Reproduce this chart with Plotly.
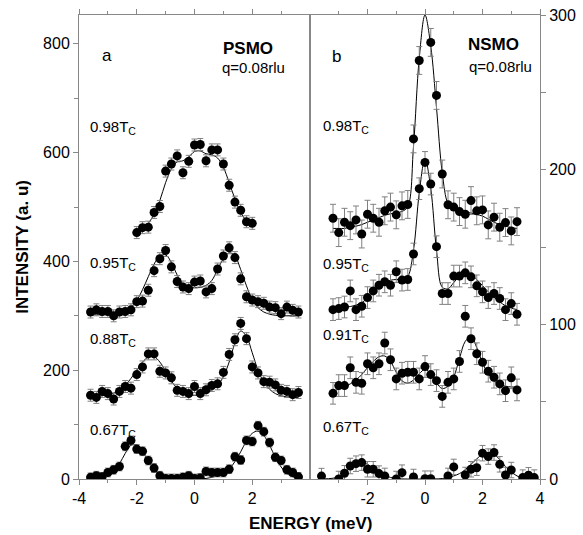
import plotly.graph_objects as go

# ---------------- data: panel a (PSMO) ----------------
E_A98 = [-2.0, -1.8, -1.6, -1.4, -1.2, -1.0, -0.8, -0.6, -0.4, -0.2, 0.0,
         0.2, 0.4, 0.6, 0.8, 1.0, 1.2, 1.4, 1.6, 1.8, 2.0]
E_AFULL = [-3.6, -3.4, -3.2, -3.0, -2.8, -2.6, -2.4, -2.2, -2.0, -1.8, -1.6,
           -1.4, -1.2, -1.0, -0.8, -0.6, -0.4, -0.2, 0.0, 0.2, 0.4, 0.6, 0.8,
           1.0, 1.2, 1.4, 1.6, 1.8, 2.0, 2.2, 2.4, 2.6, 2.8, 3.0, 3.2, 3.4, 3.6]

a98 = [453, 462, 463, 490, 501, 566, 579, 594, 563, 584, 614, 615, 585, 605,
       605, 579, 540, 509, 494, 473, 470]
a98_fit = [455, 460, 470, 487, 512, 545, 570, 583, 585, 592, 602, 603, 598,
           596, 590, 573, 545, 515, 490, 475, 468]

a95 = [307, 311, 308, 308, 300, 307, 308, 311, 326, 327, 347, 383, 405, 420,
       390, 363, 353, 350, 362, 364, 344, 350, 386, 410, 425, 407, 368, 335,
       329, 326, 323, 316, 315, 304, 316, 310, 307]
a95_fit = [302, 302, 302, 302, 303, 305, 308, 315, 328, 348, 372, 395, 410,
           412, 398, 375, 358, 352, 352, 352, 356, 365, 385, 405, 416, 410,
           385, 355, 330, 315, 307, 303, 301, 300, 300, 300, 300]

a88 = [154, 150, 161, 157, 147, 161, 170, 167, 192, 206, 230, 230, 198, 195,
       186, 163, 161, 157, 170, 157, 164, 172, 175, 196, 229, 256, 286, 258,
       206, 195, 179, 178, 173, 163, 161, 155, 159]
a88_fit = [152, 152, 153, 155, 158, 163, 172, 185, 200, 215, 224, 225, 215,
           198, 180, 167, 159, 155, 154, 155, 158, 163, 172, 188, 215, 250,
           272, 262, 232, 200, 178, 165, 157, 153, 151, 150, 150]

a67 = [3, 6, 4, 12, 17, 23, 60, 71, 55, 51, 34, 20, 6, 1, 1, 1, 3, 6, 1, 2,
       14, 12, 12, 12, 18, 41, 35, 71, 69, 98, 87, 67, 40, 34, 17, 12, 4]
a67_fit = [0, 1, 3, 7, 14, 28, 47, 62, 62, 50, 33, 18, 8, 3, 1, 0, 0, 0, 0,
           0, 1, 3, 6, 10, 18, 32, 50, 70, 84, 88, 80, 62, 40, 22, 10, 4, 1]

# ---------------- data: panel b (NSMO) ----------------
E_BFULL = [-3.2, -3.0, -2.8, -2.6, -2.4, -2.2, -2.0, -1.8, -1.6, -1.4, -1.2,
           -1.0, -0.8, -0.6, -0.4, -0.2, 0.0, 0.2, 0.4, 0.6, 0.8, 1.0, 1.2,
           1.4, 1.6, 1.8, 2.0, 2.2, 2.4, 2.6, 2.8, 3.0, 3.2]
E_B98 = [-3.2, -3.0, -2.8, -2.6, -2.4, -2.2, -2.0, -1.8, -1.6, -1.4, -1.2,
         -1.0, -0.8, -0.6, -0.4, -0.2, 0.2, 0.4, 0.6, 0.8, 1.0, 1.2,
         1.4, 1.6, 1.8, 2.0, 2.2, 2.4, 2.6, 2.8, 3.0, 3.2]
b98 = [168.6, 159.3, 166, 163.8, 167.5, 158.4, 171.2, 168.6, 166, 173.4,
       175.8, 170.8, 176.6, 177.5, 219.9, 270.6, 282.3, 248, 197.2,
       177.3, 175.8, 172.9, 171.2, 180, 173.4, 174, 164.3, 169.3, 162.8,
       165.8, 160.4, 166.4]
b98_fit = [162, 162, 162, 163, 163.5, 164.5, 166, 167.5, 169, 170.5, 171.5,
           172, 173, 176, 215, 272, 300, 280, 240, 198, 178, 174, 173, 172.5,
           172, 171, 170, 168, 166, 164.5, 163.5, 162.5, 162]

b95 = [109.5, 110.2, 111.2, 121.6, 109.5, 111.7, 117.3, 121.6, 125.3, 127.5,
       125.3, 134, 128.6, 129, 145.5, 187.7, 204.7, 190.7, 150.2, 119.9,
       119.9, 131.2, 131.2, 133.3, 130.7, 124.9, 121, 117.3, 119.9, 116.7,
       109.5, 113.4, 106.5]
b95_fit = [110, 110.5, 111, 111.5, 112.5, 114, 117, 120.5, 124, 127, 128.5,
           129, 129, 131, 148, 185, 207, 188, 148, 124, 123, 127, 131, 132.5,
           132, 129, 125, 121, 117.5, 114.5, 112, 110.5, 109.5]

b91 = [55.4, 60.4, 60.4, 71.9, 62.5, 61.9, 74.5, 71.9, 74.5, 87.9, 77.1, 64.7,
       68.4, 69, 69, 64.7, 72.7, 67.5, 63.6, 53.4, 62.5, 64.7, 76, 105.2,
       90.7, 81, 75.5, 69.7, 65.8, 61.5, 57.1, 65.4, 57.6]
b91_fit = [57, 58, 59.5, 61.5, 64, 67.5, 72, 76, 79, 79.5, 76, 69, 63.5, 62,
           64, 68, 71, 68, 62, 58.5, 60, 66, 78, 89, 92, 85, 75, 68, 63.5,
           61, 60, 59.5, 59.5]

E_B67 = [-3.6, -3.0, -2.8, -2.6, -2.4, -2.2, -2.0, -1.8, -1.6, -1.4, -1.0,
         -0.8, -0.4, 0.0, 0.2, 0.8, 1.0, 1.4, 1.6, 1.8, 2.0, 2.2, 2.4, 2.6,
         2.8, 3.0, 3.4, 3.6, 3.8]
b67 = [1.9, 0, 3.7, 8.4, 9.9, 10.6, 6.3, 6.3, 3.5, 2, 0, 4.1, 1.3, 0.2, 0.2,
       2, 7.8, 2.6, 6.3, 7.3, 16.7, 14.5, 17.1, 9.5, 2.6, 5.8, 0.9, 2.4, 0.9]
E_B67FIT = [-3.6, -3.2, -3.0, -2.8, -2.6, -2.4, -2.2, -2.0, -1.8, -1.6, -1.4,
            -1.2, -1.0, -0.6, 0.0, 0.6, 1.0, 1.2, 1.4, 1.6, 1.8, 2.0, 2.2,
            2.4, 2.6, 2.8, 3.0, 3.2, 3.4, 3.8]
b67_fit = [0, 0.5, 1.5, 4, 7, 9.5, 10.5, 9.5, 7, 4.5, 2.5, 1, 0.3, 0, 0, 0.3,
           2, 3.5, 6, 9.5, 13, 16, 17, 16, 12.5, 8, 4.5, 2, 0.5, 0]

# error bar half-widths (a.u.)
ERR_A = 11
ERR_B = 7

# tick values and labels
A_XTICKS = [-4, -2, 0, 2]
A_XLABELS = ["-4", "-2", "0", "2"]
B_XTICKS = [-2, 0, 2, 4]
B_XLABELS = ["-2", "0", "2", "4"]
A_YTICKS = [0, 200, 400, 600, 800]
B_YTICKS = [0, 100, 200, 300]

# ---------------- figure ----------------
fig = go.Figure()

def add_series(x, y, err, xfit, yfit, xa, ya):
    fig.add_trace(go.Scatter(x=xfit, y=yfit, mode="lines", line_shape="spline",
                             line=dict(color="black", width=1),
                             xaxis=xa, yaxis=ya, hoverinfo="skip"))
    fig.add_trace(go.Scatter(x=x, y=y, mode="markers",
                             marker=dict(color="black", size=9),
                             error_y=dict(type="constant", value=err,
                                          color="#808080", thickness=1, width=3),
                             xaxis=xa, yaxis=ya))

add_series(E_A98, a98, ERR_A, E_A98, a98_fit, "x", "y")
add_series(E_AFULL, a95, ERR_A, E_AFULL, a95_fit, "x", "y")
add_series(E_AFULL, a88, ERR_A, E_AFULL, a88_fit, "x", "y")
add_series(E_AFULL, a67, ERR_A - 3, E_AFULL, a67_fit, "x", "y")

add_series(E_B98, b98, ERR_B + 2, E_BFULL, b98_fit, "x2", "y2")
add_series(E_BFULL, b95, ERR_B, E_BFULL, b95_fit, "x2", "y2")
add_series(E_BFULL, b91, ERR_B, E_BFULL, b91_fit, "x2", "y2")
add_series(E_B67, b67, ERR_B - 2, E_B67FIT, b67_fit, "x2", "y2")

axcol = "#888888"
F = "Liberation Sans, Arial, sans-serif"
tickfont = dict(family=F, size=16, color="black")
split = (310 - 79) / 461

common_x = dict(range=[-4, 4], showline=True, linecolor=axcol, linewidth=1,
                mirror="ticks", ticks="outside", ticklen=5, tickcolor=axcol,
                showgrid=False, zeroline=False, tickfont=tickfont,
                automargin=False)
fig.update_layout(
    xaxis=dict(domain=[0, split], anchor="y", tickvals=A_XTICKS,
               ticktext=A_XLABELS,
               minor=dict(tickvals=[-3, -1, 1, 3], ticks="outside", ticklen=3,
                          tickcolor=axcol),
               **common_x),
    xaxis2=dict(domain=[split, 1], anchor="y2", tickvals=B_XTICKS,
                ticktext=B_XLABELS,
                minor=dict(tickvals=[-3, -1, 1, 3], ticks="outside", ticklen=3,
                           tickcolor=axcol),
                **common_x),
    yaxis=dict(range=[0, 853], anchor="x", tickvals=A_YTICKS,
               showline=True, linecolor=axcol, mirror=True, ticks="outside",
               ticklen=5, tickcolor=axcol, showgrid=False, zeroline=False,
               minor=dict(tickvals=[100, 300, 500, 700], ticks="outside",
                          ticklen=4, tickcolor=axcol),
               tickfont=tickfont, automargin=False),
    yaxis2=dict(range=[0, 300], anchor="x2", side="right", tickvals=B_YTICKS,
                showline=True, linecolor=axcol, mirror=True, ticks="outside",
                ticklen=5, tickcolor=axcol, showgrid=False, zeroline=False,
                minor=dict(tickvals=[50, 150, 250], ticks="outside",
                           ticklen=5, tickcolor=axcol),
                tickfont=tickfont, automargin=False),
    width=583, height=535,
    margin=dict(l=79, r=43, t=15, b=56, autoexpand=False),
    plot_bgcolor="white", paper_bgcolor="white",
    showlegend=False,
    font=dict(family=F, color="black"),
)

def ann(text, x, y, xref, yref, size=15, bold=False, xanchor="center", **kw):
    fig.add_annotation(text=f"<b>{text}</b>" if bold else text, x=x, y=y,
                       xref=xref, yref=yref, showarrow=False,
                       font=dict(family=F, size=size, color="black"),
                       xanchor=xanchor, yanchor="middle", **kw)

# panel a
ann("a", -3.03, 778, "x", "y", size=17)
ann("PSMO", 1.84, 792, "x", "y", size=17, bold=True)
ann("q=0.08rlu", 2.05, 756, "x", "y", size=15)
ann("0.98T<sub>C</sub>", -3.68, 647, "x", "y", xanchor="left")
ann("0.95T<sub>C</sub>", -3.68, 396, "x", "y", xanchor="left")
ann("0.88T<sub>C</sub>", -3.68, 256, "x", "y", xanchor="left")
ann("0.67T<sub>C</sub>", -3.68, 90, "x", "y", xanchor="left")
# panel b
ann("b", -3.07, 273, "x2", "y2", size=17)
ann("NSMO", 2.37, 281, "x2", "y2", size=17, bold=True)
ann("q=0.08rlu", 2.62, 267, "x2", "y2", size=15)
ann("0.98T<sub>C</sub>", -3.62, 228, "x2", "y2", xanchor="left")
ann("0.95T<sub>C</sub>", -3.62, 139, "x2", "y2", xanchor="left")
ann("0.91T<sub>C</sub>", -3.62, 93, "x2", "y2", xanchor="left")
ann("0.67T<sub>C</sub>", -3.62, 33, "x2", "y2", xanchor="left")

# axis titles
ann("ENERGY (meV)", (310 - 79) / 461, -0.095, "paper", "paper", size=17, bold=True)
ann("INTENSITY (a. u)", -0.124, 0.5, "paper", "paper", size=17, bold=True,
    textangle=-90)

fig.write_html("out.html", config={"displayModeBar": False},
               post_script="document.body.style.margin='0';"
                           "document.body.style.padding='0';")
